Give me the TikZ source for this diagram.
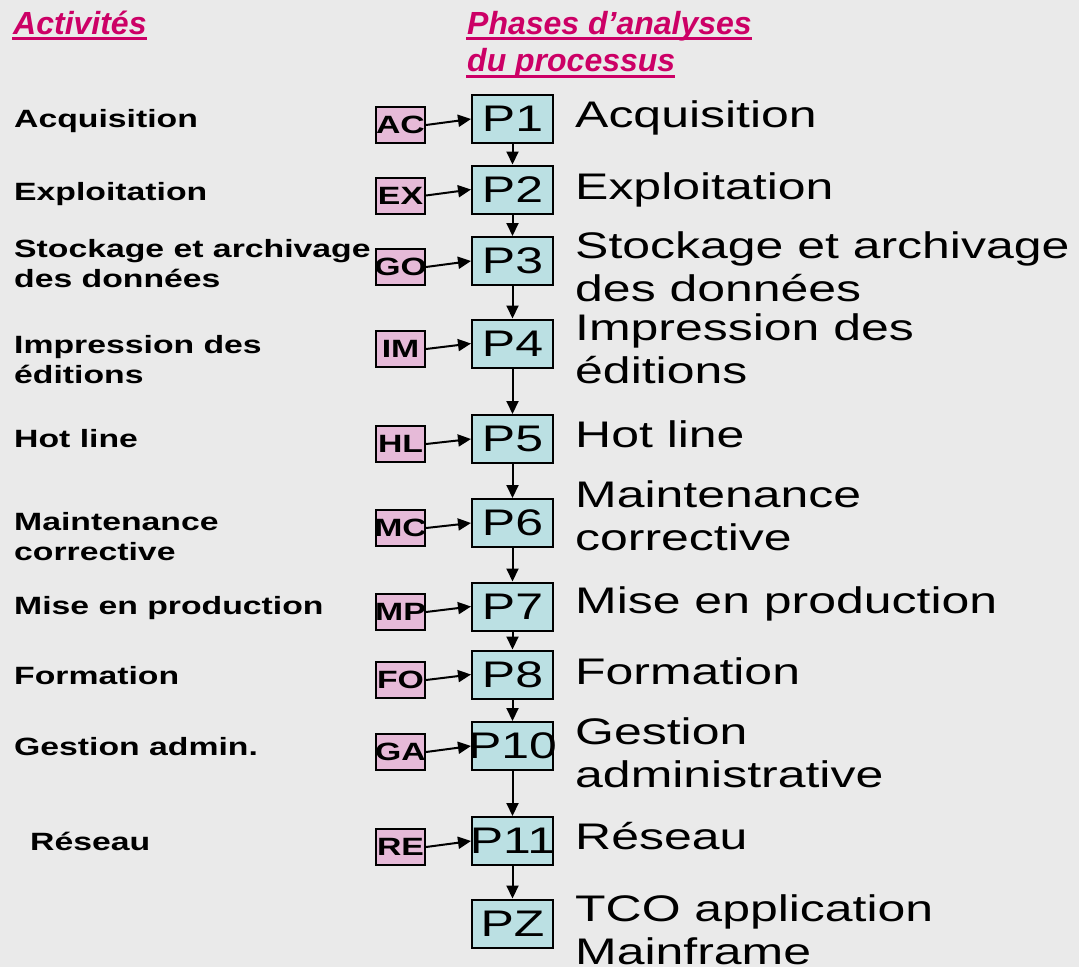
\documentclass[tikz,border=0pt]{standalone}
\usepackage{fontspec}
\setmainfont{Liberation Sans}
\newfontfamily\widefont[FakeStretch=1.35]{Liberation Sans}
\usetikzlibrary{arrows.meta,calc}
\definecolor{bgcol}{RGB}{234,234,234}
\definecolor{pcol}{RGB}{187,224,227}
\definecolor{scol}{RGB}{230,186,216}
\definecolor{hcol}{RGB}{204,0,102}
\newcommand{\twoline}[2]{\vtop{\hbox{#1}\hbox{#2}}}
\newcommand{\ovl}[2]{\raisebox{#1}{\makebox[0pt][c]{#2}}}
\begin{document}
\begin{tikzpicture}[x=1pt,y=-1pt,
  pbox/.style={draw=black,line width=2pt,fill=pcol,minimum width=81pt,minimum height=48pt,inner sep=0pt,font=\widefont\fontsize{37}{43}\selectfont},
  sbox/.style={draw=black,line width=2pt,fill=scol,minimum width=49pt,minimum height=36pt,inner sep=0pt,font=\widefont\bfseries\fontsize{25}{30}\selectfont},
  llab/.style={anchor=base west,inner sep=0pt,font=\widefont\bfseries\fontsize{25}{30}\selectfont},
  rlab/.style={anchor=base west,inner sep=0pt,font=\widefont\fontsize{37}{43.5}\selectfont},
  hd/.style={anchor=base west,inner sep=0pt,text=hcol,font=\bfseries\itshape\fontsize{32}{37}\selectfont},
  uline/.style={draw=hcol,line width=3pt},
  arr/.style={draw=black,line width=2pt,-{Triangle[length=13pt,width=12pt]}}]
\useasboundingbox (0,0) rectangle (1079,967);
\fill[bgcol] (0,0) rectangle (1079,967);

% headers
\node[hd] (h1) at (13,34) {Activités};
\node[hd] (h2) at (467,34) {Phases d’analyses};
\node[hd] (h3) at (467,71) {du processus};
\draw[uline] ($(h1.base west)+(-1,4.5)$) -- ($(h1.base east)+(0,4.5)$);
\draw[uline] ($(h2.base west)+(-1,4.5)$) -- ($(h2.base east)+(0,4.5)$);
\draw[uline] ($(h3.base west)+(-1,5.5)$) -- ($(h3.base east)+(0,5.5)$);

% left activity labels
\node[llab] (la1) at (14,127) {Acquisition};
\node[llab] (la2) at (14,200) {Exploitation};
\node[llab] (la3) at (14,257) {\twoline{Stockage et archivage}{des données}};
\node[llab] (la4) at (14,353) {\twoline{Impression des}{éditions}};
\node[llab] (la5) at (14,447) {Hot line};
\node[llab] (la6) at (14,530) {\twoline{Maintenance}{corrective}};
\node[llab] (la7) at (14,614) {Mise en production};
\node[llab] (la8) at (14,684) {Formation};
\node[llab] (la9) at (14,755) {Gestion admin.};
\node[llab] (la10) at (30,850) {Réseau};

% phase boxes
\node[pbox] (p1) at (512.5,119) {\ovl{0pt}{P1}};
\node[pbox] (p2) at (512.5,189.5) {\ovl{0pt}{P2}};
\node[pbox] (p3) at (512.5,261) {\ovl{0pt}{P3}};
\node[pbox] (p4) at (512.5,343.5) {\ovl{0pt}{P4}};
\node[pbox] (p5) at (512.5,439) {\ovl{0pt}{P5}};
\node[pbox] (p6) at (512.5,523) {\ovl{0pt}{P6}};
\node[pbox] (p7) at (512.5,606.5) {\ovl{0pt}{P7}};
\node[pbox] (p8) at (512.5,674.5) {\ovl{0pt}{P8}};
\node[pbox] (p10) at (512.5,746) {\ovl{0pt}{P10}};
\node[pbox] (p11) at (512.5,841) {\ovl{0pt}{P11}};
\node[pbox] (pz) at (512.5,923.5) {\ovl{0pt}{PZ}};

% code boxes
\node[sbox] (ac) at (400.5,125) {\ovl{-3pt}{AC}};
\node[sbox] (ex) at (400.5,195.5) {\ovl{-3pt}{EX}};
\node[sbox] (go) at (400.5,267) {\ovl{-3pt}{GO}};
\node[sbox] (im) at (400.5,349) {\ovl{-3pt}{IM}};
\node[sbox] (hl) at (400.5,444) {\ovl{-3pt}{HL}};
\node[sbox] (mc) at (400.5,528) {\ovl{-3pt}{MC}};
\node[sbox] (mp) at (400.5,612) {\ovl{-3pt}{MP}};
\node[sbox] (fo) at (400.5,680) {\ovl{-3pt}{FO}};
\node[sbox] (ga) at (400.5,752) {\ovl{-3pt}{GA}};
\node[sbox] (re) at (400.5,847) {\ovl{-3pt}{RE}};

% right phase labels
\node[rlab] (r1) at (575,127) {Acquisition};
\node[rlab] (r2) at (575,199) {Exploitation};
\node[rlab] (r3) at (575,258) {\twoline{Stockage et archivage}{des données}};
\node[rlab] (r4) at (575,340) {\twoline{Impression des}{éditions}};
\node[rlab] (r5) at (575,447) {Hot line};
\node[rlab] (r6) at (575,507) {\twoline{Maintenance}{corrective}};
\node[rlab] (r7) at (575,613) {Mise en production};
\node[rlab] (r8) at (575,684) {Formation};
\node[rlab] (r10) at (575,744) {\twoline{Gestion}{administrative}};
\node[rlab] (r11) at (575,849) {Réseau};
\node[rlab] (rz) at (575,921) {\twoline{TCO application}{Mainframe}};

% horizontal connectors
\foreach \s/\p in {ac/p1,ex/p2,go/p3,im/p4,hl/p5,mc/p6,mp/p7,fo/p8,ga/p10,re/p11}
  \draw[arr] (\s.east) -- (\p.west);
% vertical connectors
\foreach \a/\b in {p1/p2,p2/p3,p3/p4,p4/p5,p5/p6,p6/p7,p7/p8,p8/p10,p10/p11,p11/pz}
  \draw[arr] (\a.south) -- (\b.north);
\end{tikzpicture}
\end{document}
